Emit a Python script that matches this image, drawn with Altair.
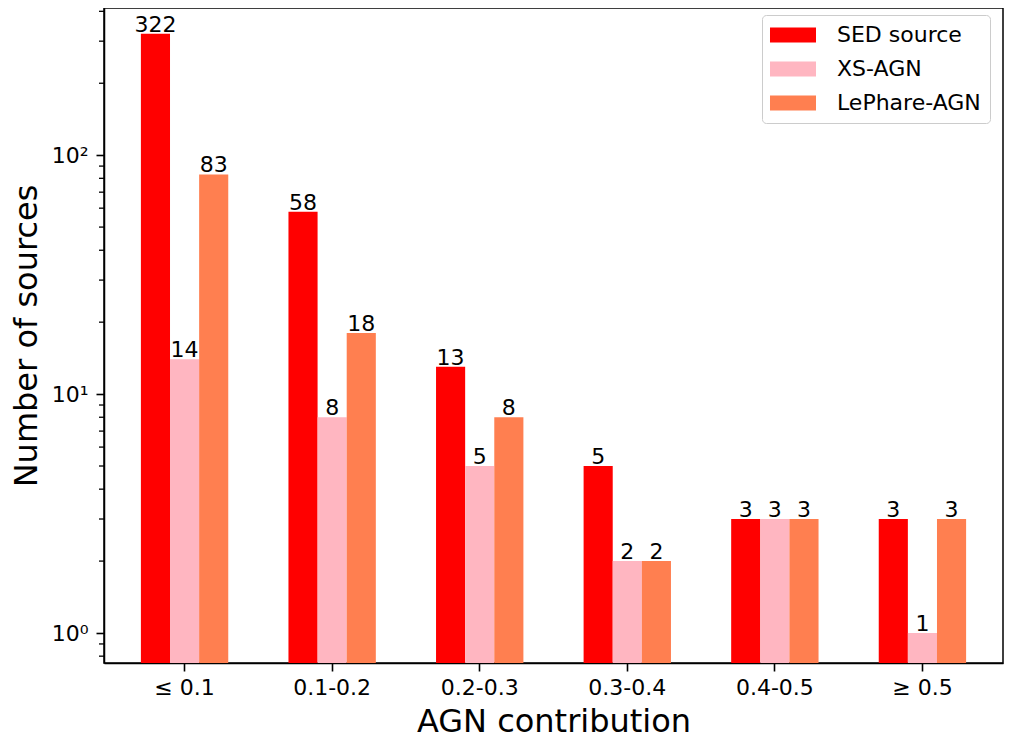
import altair as alt
import pandas as pd

categories = ["≤ 0.1", "0.1-0.2", "0.2-0.3", "0.3-0.4", "0.4-0.5", "≥ 0.5"]
series = ["SED source", "XS-AGN", "LePhare-AGN"]
sed_source = [322, 58, 13, 5, 3, 3]
xs_agn = [14, 8, 5, 2, 3, 1]
lephare_agn = [83, 18, 8, 2, 3, 3]
colors = ["#FF0000", "#FFB6C1", "#FF7F50"]

major_ticks = [1, 10, 100]
minor_ticks = [0.8, 0.9, 2, 3, 4, 5, 6, 7, 8, 9, 20, 30, 40, 50, 60, 70, 80, 90, 200, 300, 400]

rows = []
for name, vals in zip(series, [sed_source, xs_agn, lephare_agn]):
    for c, v in zip(categories, vals):
        rows.append({"cat": c, "series": name, "value": v})
df = pd.DataFrame(rows)
ticks_df = pd.DataFrame({"value": minor_ticks})

FONT = "DejaVu Sans"

x_axis = alt.Axis(
    title="AGN contribution",
    labelAngle=0,
    tickSize=8,
    labelPadding=6,
    titlePadding=8,
)
x_scale = alt.Scale(paddingInner=0.408, paddingOuter=0.25)
y_axis = alt.Axis(
    title="Number of sources",
    values=major_ticks,
    labelExpr="datum.value == 1 ? '10⁰' : datum.value == 10 ? '10¹' : '10²'",
    labelOverlap=False,
    tickSize=8,
    labelPadding=8,
    titlePadding=8,
    orient="left",
    grid=False,
)
y_scale = alt.Scale(type="log", domain=[0.749, 413], nice=False, clamp=True)
xoff = alt.XOffset("series:N", sort=series)

base = alt.Chart(df).encode(
    x=alt.X("cat:N", sort=categories, scale=x_scale, axis=x_axis),
    xOffset=xoff,
    y=alt.Y("value:Q", scale=y_scale, axis=y_axis),
)

bars = base.mark_bar().encode(
    color=alt.Color(
        "series:N",
        sort=series,
        scale=alt.Scale(domain=series, range=colors),
        legend=alt.Legend(
            title=None,
            orient="none",
            legendX=658,
            legendY=7,
            symbolType="M-3.067,-1H3.067V1H-3.067Z",
            symbolSize=225,
            symbolStrokeWidth=0,
            symbolOffset=11,
            labelFontSize=22,
            labelOffset=33,
            rowPadding=12,
            padding=9,
            strokeColor="#CCCCCC",
            fillColor="white",
            cornerRadius=4,
        ),
    ),
)

labels = base.mark_text(
    baseline="alphabetic", dy=-2, fontSize=22, font=FONT, color="black"
).encode(text="value:Q")

minor = alt.Chart(ticks_df).mark_rule(color="black", strokeWidth=1.3).encode(
    y=alt.Y("value:Q", scale=y_scale, axis=y_axis),
    x=alt.value(-5),
    x2=alt.value(0),
)

chart = (
    alt.layer(bars, labels, minor)
    .properties(
        width=899,
        height=655,
        padding={"left": 96, "top": 0, "right": 5, "bottom": 80},
        autosize=alt.AutoSizeParams(type="none"),
    )
    .configure(font=FONT)
    .configure_view(stroke="black", strokeWidth=1.5)
    .configure_axis(
        labelFont=FONT,
        titleFont=FONT,
        labelFontSize=22,
        titleFontSize=32,
        titleFontWeight="normal",
        labelColor="black",
        titleColor="black",
        tickColor="black",
        domainColor="black",
        domainWidth=1.5,
        tickWidth=1.6,
    )
    .configure_legend(labelFont=FONT, labelColor="black")
)

chart.save("out.html", embed_options={"renderer": "svg", "actions": False})
